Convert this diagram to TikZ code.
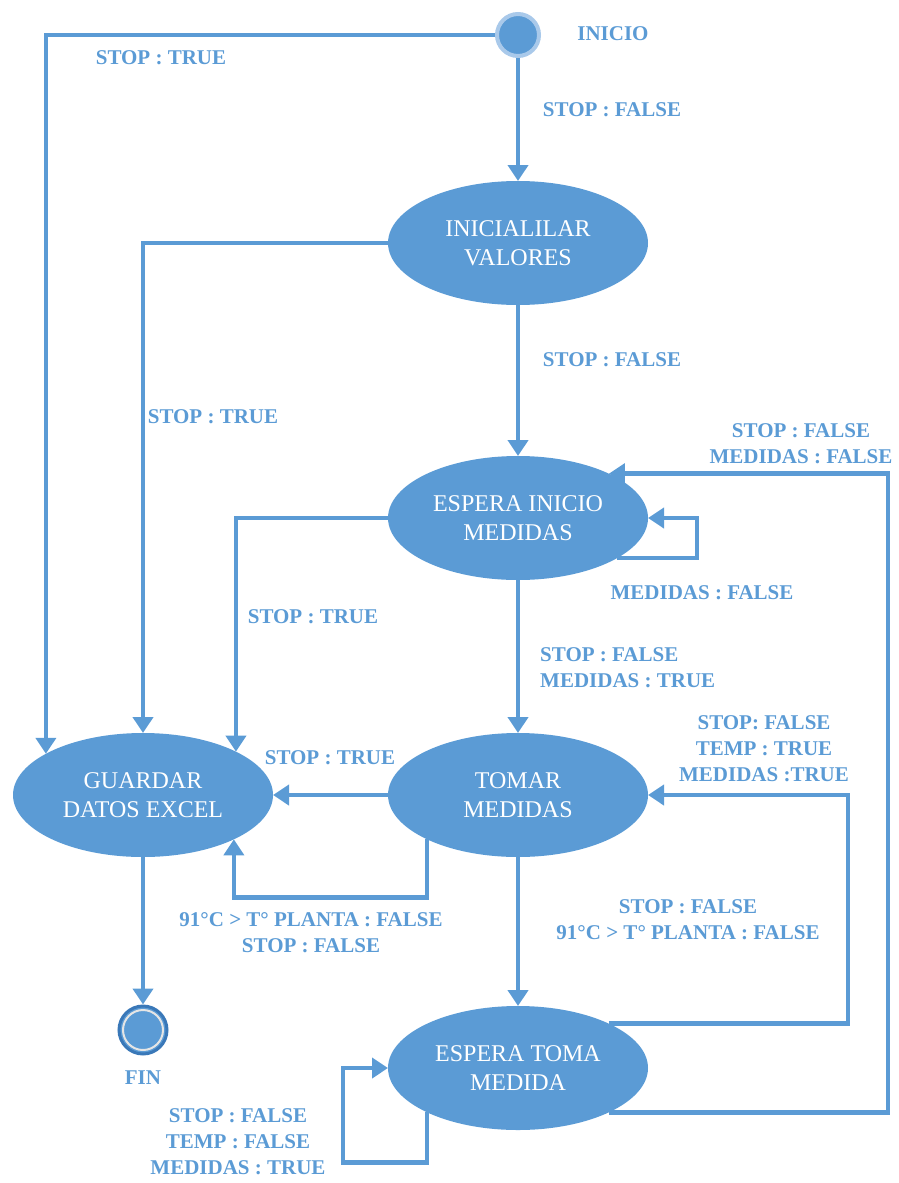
\documentclass[tikz,border=0pt]{standalone}
\usepackage{fontspec}
\setmainfont{Liberation Serif}
\usetikzlibrary{arrows.meta,shapes.geometric}
\definecolor{sblue}{HTML}{5B9BD5}
\definecolor{halo}{HTML}{A9C9EA}
\definecolor{dblue}{HTML}{3A78B8}
\begin{document}
\begin{tikzpicture}[x=1pt,y=-1pt,
  state/.style={ellipse,fill=sblue,minimum width=260pt,minimum height=124pt,inner sep=0pt,outer sep=0pt},
  ntext/.style={text=white,font=\fontsize{24}{29}\selectfont,align=center,inner sep=0pt},
  lab/.style={text=sblue,font=\bfseries\fontsize{21}{26}\selectfont,align=center,inner sep=0pt},
  arr/.style={draw=sblue,line width=4.5pt,-{Triangle[width=20pt,length=16pt]}}]
\useasboundingbox (0,0) rectangle (898,1183);
% nodes
\node[circle,fill=sblue,draw=halo,line width=4pt,minimum size=42pt,inner sep=0pt] (st) at (518,35) {};
\node[state,label={[ntext]center:{INICIALILAR\\VALORES}}] (iv) at (518,243) {};
\node[state,label={[ntext]center:{ESPERA INICIO\\MEDIDAS}}] (eim) at (518,518) {};
\node[state,label={[ntext]center:{TOMAR\\MEDIDAS}}] (tom) at (518,795) {};
\node[state,label={[ntext]center:{ESPERA TOMA\\MEDIDA}}] (etm) at (518,1068) {};
\node[state,label={[ntext]center:{GUARDAR\\DATOS EXCEL}}] (gua) at (143,795) {};
\node[circle,fill=sblue,draw=dblue,line width=3pt,minimum size=48pt,inner sep=0pt] (fin) at (143,1030) {};
\draw[white!80!gray,line width=2pt] (fin) circle (20pt);
% connectors
\draw[arr] (st.west) -| (gua.157.5);
\draw[arr] (st.south) -- (iv.north);
\draw[arr] (iv.west) -| (gua.north);
\draw[arr] (iv.south) -- (eim.north);
\draw[arr] (eim.west) -| (gua.25.5);
\draw[arr] (eim.-22.5) -- ++(80,0) |- (eim.east);
\draw[arr] (eim.south) -- (tom.north);
\draw[arr] (tom.west) -- (gua.east);
\draw[arr] (tom.206) -- ++(0,58) -| (gua.-26);
\draw[arr] (tom.south) -- (etm.north);
\draw[arr] (etm.26) -- ++(239,0) |- (tom.east);
\draw[arr] (etm.-26) -- ++(279,0) |- (eim.26);
\draw[arr] (etm.206) -- ++(0,50) -- ++(-84,0) |- (etm.west);
\draw[arr] (gua.south) -- (fin.north);
% labels
\node[lab] (lInicio) at (613,34) {INICIO};
\node[lab] (lFin) at (143,1078) {FIN};
\node[lab] (l1) at (161,58) {STOP : TRUE};
\node[lab] (l2) at (612,110) {STOP : FALSE};
\node[lab] (l3) at (213,417) {STOP : TRUE};
\node[lab] (l4) at (612,360) {STOP : FALSE};
\node[lab] (l5) at (313,617) {STOP : TRUE};
\node[lab] (l6) at (702,593) {MEDIDAS : FALSE};
\node[lab,align=left,anchor=west] (l7) at (540,668) {STOP : FALSE\\MEDIDAS : TRUE};
\node[lab] (l8) at (801,444) {STOP : FALSE\\MEDIDAS : FALSE};
\node[lab] (l9) at (330,758) {STOP : TRUE};
\node[lab] (l10) at (764,749) {STOP: FALSE\\TEMP : TRUE\\MEDIDAS :TRUE};
\node[lab] (l11) at (311,933) {91°C > T° PLANTA : FALSE\\STOP : FALSE};
\node[lab] (l12) at (688,920) {STOP : FALSE\\91°C > T° PLANTA : FALSE};
\node[lab] (l13) at (238,1142) {STOP : FALSE\\TEMP : FALSE\\MEDIDAS : TRUE};
\end{tikzpicture}
\end{document}
